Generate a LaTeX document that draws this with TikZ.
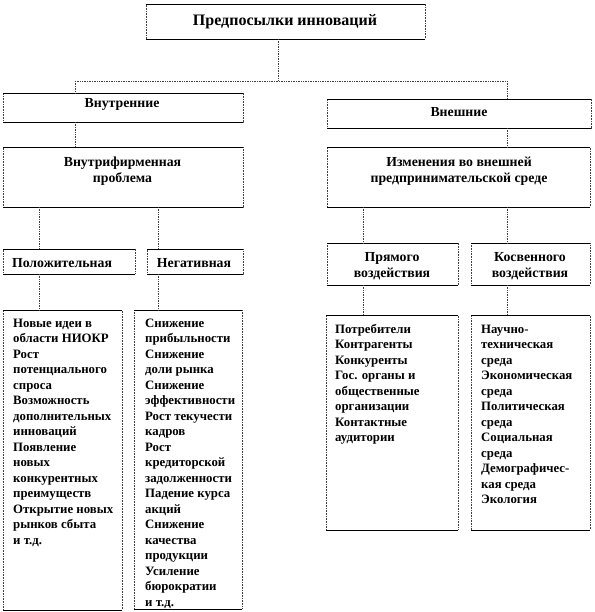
\documentclass[tikz,border=0pt]{standalone}
\usepackage{fontspec}
\setmainfont{Liberation Serif}
\begin{document}
\begin{tikzpicture}[x=1pt,y=-1pt,
  bx/.style={rectangle, draw=black!75, densely dotted, line width=0.6pt, inner sep=0, outer sep=0},
  edgeline/.style={draw=black, solid, line width=0.6pt},
  conn/.style={draw=black!75, densely dotted, line width=0.7pt},
  ttl/.style={inner sep=0, anchor=base, font=\bfseries\fontsize{16}{18}\selectfont},
  hd/.style={inner sep=0, align=center, font=\bfseries\fontsize{13.8}{16}\selectfont},
  lst/.style={inner sep=0, anchor=north west, align=left, font=\bfseries\fontsize{12.8}{15.5}\selectfont}]
\useasboundingbox (0,0) rectangle (594,612);
\fill[white] (0,0) rectangle (594,612);
% boxes
\node[bx, minimum width=279, minimum height=35] (top) at (285.5,21.5) {};
\node[bx, minimum width=240, minimum height=29] (inn) at (123,107.5) {};
\node[bx, minimum width=264, minimum height=29] (ext) at (459,113.5) {};
\node[bx, minimum width=240, minimum height=60] (infirm) at (123,177) {};
\node[bx, minimum width=263, minimum height=60] (chg) at (458.5,177) {};
\node[bx, minimum width=132, minimum height=25] (pos) at (69,261.5) {};
\node[bx, minimum width=96, minimum height=25] (neg) at (195,261.5) {};
\node[bx, minimum width=131, minimum height=42] (dir) at (392.5,264) {};
\node[bx, minimum width=119, minimum height=42] (ind) at (530.5,264) {};
\node[bx, minimum width=119, minimum height=300] (l1) at (62.5,460) {};
\node[bx, minimum width=108, minimum height=299] (l2) at (188,459.5) {};
\node[bx, minimum width=132, minimum height=215] (l3) at (392,422.5) {};
\node[bx, minimum width=119, minimum height=215] (l4) at (530.5,422.5) {};
\foreach \n in {top,inn,ext,infirm,chg,pos,neg,dir,ind,l1,l2,l3,l4}
  \draw[edgeline] (\n.north west) -- (\n.north east) (\n.south west) -- (\n.south east);
% texts
\node[ttl] (ttop) at (285,26) {Предпосылки инноваций};
\node[hd, anchor=base] (tinn) at (122,108) {Внутренние};
\node[hd, anchor=base] (text) at (459,117) {Внешние};
\node[hd, anchor=north] (tinfirm) at (122.5,154.8) {\strut Внутрифирменная\\проблема};
\node[hd, anchor=north] (tchg) at (459,154.8) {\strut Изменения во внешней\\предпринимательской среде};
\node[hd, anchor=base] (tpos) at (62,267) {Положительная};
\node[hd, anchor=base] (tneg) at (194,267) {Негативная};
\node[hd, anchor=north] (tdir) at (392,249.8) {\strut Прямого\\воздействия};
\node[hd, anchor=north] (tind) at (530,249.8) {\strut Косвенного\\воздействия};
\node[lst] (t1) at (13,316.15) {\strut Новые идеи в\\области НИОКР\\Рост\\потенциального\\спроса\\Возможность\\дополнительных\\инноваций\\Появление\\новых\\конкурентных\\преимуществ\\Открытие новых\\рынков сбыта\\и т.д.};
\node[lst] (t2) at (145,316.15) {\strut Снижение\\прибыльности\\Снижение\\доли рынка\\Снижение\\эффективности\\Рост текучести\\кадров\\Рост\\кредиторской\\задолженности\\Падение курса\\акций\\Снижение\\качества\\продукции\\Усиление\\бюрократии\\и т.д.};
\node[lst] (t3) at (335,322.15) {\strut Потребители\\Контрагенты\\Конкуренты\\Гос. органы и\\общественные\\организации\\Контактные\\аудитории};
\node[lst] (t4) at (481,322.15) {\strut Научно-\\техническая\\среда\\Экономическая\\среда\\Политическая\\среда\\Социальная\\среда\\Демографичес-\\кая среда\\Экология};
% connectors
\coordinate (j1) at (278,81);
\coordinate (jl) at (75,81);
\coordinate (jr) at (507,81);
\coordinate (a1) at (39,0);
\coordinate (a2) at (158,0);
\coordinate (a3) at (363,0);
\coordinate (a4) at (507,0);
\draw[conn] (top.south -| j1) -- (j1);
\draw[conn] (jl) -- (jr);
\draw[conn] (jl) -- (inn.north -| jl);
\draw[conn] (jr) -- (ext.north -| jr);
\draw[conn] (inn.south -| jl) -- (infirm.north -| jl);
\draw[conn] (ext.south -| jr) -- (chg.north -| jr);
\draw[conn] (infirm.south -| a1) -- (pos.north -| a1);
\draw[conn] (infirm.south -| a2) -- (neg.north -| a2);
\draw[conn] (pos.south -| a1) -- (l1.north -| a1);
\draw[conn] (neg.south -| a2) -- (l2.north -| a2);
\draw[conn] (chg.south -| a3) -- (dir.north -| a3);
\draw[conn] (chg.south -| a4) -- (ind.north -| a4);
\draw[conn] (dir.south -| a3) -- (l3.north -| a3);
\draw[conn] (ind.south -| a4) -- (l4.north -| a4);
\end{tikzpicture}
\end{document}
